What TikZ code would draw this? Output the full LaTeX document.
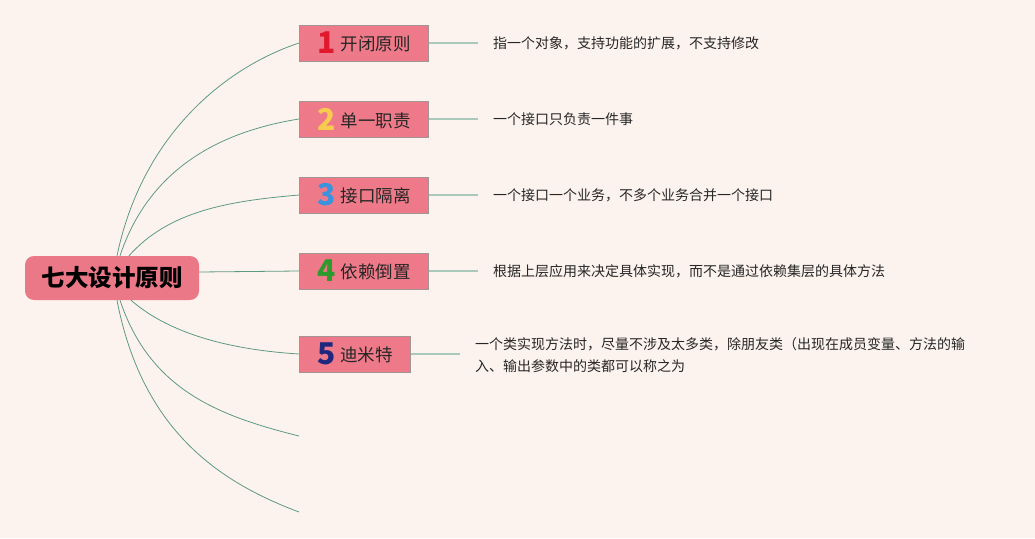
\documentclass[tikz,border=0pt]{standalone}
\usepackage{fontspec}
\setmainfont{Noto Sans CJK SC}
\definecolor{bgc}{HTML}{FDF3EE}
\definecolor{rootfill}{HTML}{EB7887}
\definecolor{childfill}{HTML}{EE7A89}
\definecolor{childborder}{HTML}{A39393}
\definecolor{branch}{HTML}{5E9A80}
\definecolor{leafline}{HTML}{A9C9BA}
\definecolor{nred}{HTML}{E0192E}
\definecolor{nyellow}{HTML}{F7CB4D}
\definecolor{nblue}{HTML}{3A93DC}
\definecolor{ngreen}{HTML}{2E9A2E}
\definecolor{nnavy}{HTML}{20287E}
\newcommand{\numdigit}[3]{\textcolor{#1}{\fontsize{30}{30}\selectfont\bfseries #2}\hspace{5pt}\raisebox{3pt}{#3}}
\tikzset{
  rootbox/.style={fill=rootfill, rounded corners=9pt, minimum width=174pt, minimum height=44pt, inner sep=0pt, font=\fontsize{23.5}{26}\selectfont\bfseries, text=black},
  childbox/.style={fill=childfill, draw=childborder, line width=1pt, minimum height=36pt, inner sep=0pt, anchor=west, font=\fontsize{17.5}{20}\selectfont, text=black!85},
  desc/.style={anchor=west, inner xsep=15pt, inner ysep=0pt, font=\fontsize{14}{22}\selectfont, text=black!85, align=left},
  branchline/.style={draw=branch, line width=0.8pt},
  leafconn/.style={draw=leafline, line width=1.2pt}
}
\begin{document}
\begin{tikzpicture}[x=1pt,y=-1pt]
\fill[bgc] (0,0) rectangle (1035,538);
\useasboundingbox (0,0) rectangle (1035,538);

\node[rootbox] (root) at (112,278) {七大设计原则};

\node[childbox, minimum width=129pt] (c1) at (299,43) {\numdigit{nred}{1}{开闭原则}};
\node[childbox, minimum width=129pt] (c2) at (299,119) {\numdigit{nyellow}{2}{单一职责}};
\node[childbox, minimum width=129pt] (c3) at (299,195) {\numdigit{nblue}{3}{接口隔离}};
\node[childbox, minimum width=129pt] (c4) at (299,271) {\numdigit{ngreen}{4}{依赖倒置}};
\node[childbox, minimum width=111pt] (c5) at (299,354) {\numdigit{nnavy}{5}{迪米特}};

\coordinate (e6) at (299,436);
\coordinate (e7) at (299,512);

\node[desc] (t1) at (478,43) {指一个对象，支持功能的扩展，不支持修改};
\node[desc] (t2) at (478,119) {一个接口只负责一件事};
\node[desc] (t3) at (478,195) {一个接口一个业务，不多个业务合并一个接口};
\node[desc] (t4) at (478,271) {根据上层应用来决定具体实现，而不是通过依赖集层的具体方法};
\node[desc] (t5) at (460,355) {一个类实现方法时，尽量不涉及太多类，除朋友类（出现在成员变量、方法的输\\入、输出参数中的类都可以称之为};

% branches
\draw[branchline] ([xshift=5pt]root.north) .. controls +(25,-120) and +(-75,25) .. (c1.west);
\draw[branchline] ([xshift=8pt]root.north) .. controls +(30,-90) and +(-75,12) .. (c2.west);
\draw[branchline] ([xshift=17pt]root.north) .. controls +(40,-45) and +(-70,6) .. (c3.west);
\draw[branchline] (root.east |- 0,272) -- (c4.west);
\draw[branchline] ([xshift=19pt]root.south) .. controls +(40,35) and +(-65,-4) .. (c5.west);
\draw[branchline] ([xshift=8pt]root.south) .. controls +(30,90) and +(-80,-20) .. (e6);
\draw[branchline] ([xshift=5pt]root.south) .. controls +(25,130) and +(-80,-30) .. (e7);

% leaf connectors
\draw[leafconn] (c1.east) -- (t1.west);
\draw[leafconn] (c2.east) -- (t2.west);
\draw[leafconn] (c3.east) -- (t3.west);
\draw[leafconn] (c4.east) -- (t4.west);
\draw[leafconn] (c5.east) -- (c5.east -| t5.west);
\end{tikzpicture}
\end{document}
